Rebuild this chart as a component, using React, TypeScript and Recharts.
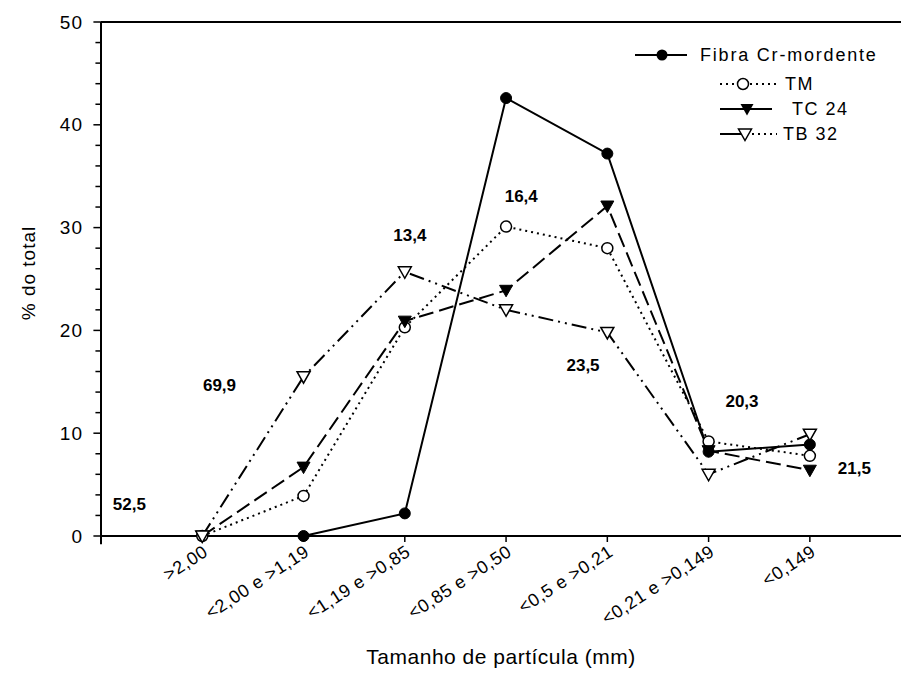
import React from 'react';
import { LineChart, Line, XAxis, YAxis, ReferenceDot, ReferenceLine } from 'recharts';

const categories = ['>2,00', '<2,00 e >1,19', '<1,19 e >0,85', '<0,85 e >0,50', '<0,5 e >0,21', '<0,21 e >0,149', '<0,149'];
const fibra = [null, 0, 2.2, 42.6, 37.2, 8.2, 8.9];
const tm = [0, 3.9, 20.3, 30.1, 28.0, 9.2, 7.8];
const tc24 = [0, 6.7, 20.9, 23.9, 32.1, 8.3, 6.4];
const tb32 = [0, 15.5, 25.7, 22.0, 19.8, 6.0, 9.9];

const yTicks = [0, 2, 4, 6, 8, 10, 12, 14, 16, 18, 20, 22, 24, 26, 28, 30, 32, 34, 36, 38, 40, 42, 44, 46, 48, 50];
const xTicks = [0, 1, 2, 3, 4, 5, 6];

// numbers written on the plot, anchored in data units
const noteText = ['52,5', '69,9', '13,4', '16,4', '23,5', '20,3', '21,5'];
const noteX = [-0.72, 0.17, 2.05, 3.15, 3.76, 5.33, 6.44];
const noteY = [3.1, 14.7, 29.3, 33.1, 16.6, 13.1, 6.6];

const X_MIN = -1;

const data = categories.map((c, i) => ({
  idx: i,
  label: c,
  fibra: fibra[i],
  tm: tm[i],
  tc24: tc24[i],
  tb32: tb32[i],
}));

const FONT = '"Liberation Sans", Arial, sans-serif';

const FilledCircle = (p: any) =>
  p.cx == null || p.value == null ? null : <circle key={p.key} cx={p.cx} cy={p.cy} r={5.5} fill="#000" stroke="#000" />;
const OpenCircle = (p: any) =>
  p.cx == null ? null : <circle key={p.key} cx={p.cx} cy={p.cy} r={5.5} fill="#fff" stroke="#000" strokeWidth={1.5} />;
const tri = (cx: number, cy: number) => `${cx - 6.5},${cy - 5} ${cx + 6.5},${cy - 5} ${cx},${cy + 6.5}`;
const FilledTri = (p: any) =>
  p.cx == null ? null : <polygon key={p.key} points={tri(p.cx, p.cy)} fill="#000" stroke="#000" />;
const OpenTri = (p: any) =>
  p.cx == null ? null : <polygon key={p.key} points={tri(p.cx, p.cy)} fill="#fff" stroke="#000" strokeWidth={1.5} />;

const YTick = (p: any) => {
  const v = p.payload.value;
  if (v % 10 !== 0) return <g />;
  return (
    <text x={p.x} y={p.y} textAnchor="end" dominantBaseline="central" fontSize={19} letterSpacing={1} fontFamily={FONT} fill="#000">
      {v}
    </text>
  );
};

const LegendBox = () => (
  <svg width={901} height={150} style={{ position: 'absolute', left: 0, top: 0, fontFamily: FONT, pointerEvents: 'none' }}>
    <g>
      <line x1={635} y1={55} x2={687} y2={55} stroke="#000" strokeWidth={2} />
      <circle cx={662} cy={55} r={5.5} fill="#000" />
      <text x={700} y={61} fontSize={18} letterSpacing={1.8}>Fibra Cr-mordente</text>
    </g>
    <g>
      <line x1={720} y1={84} x2={777} y2={84} stroke="#000" strokeWidth={2} strokeDasharray="2 4" />
      <circle cx={743} cy={84} r={5.5} fill="#fff" stroke="#000" strokeWidth={1.5} />
      <text x={785} y={90} fontSize={18} letterSpacing={1.5}>TM</text>
    </g>
    <g>
      <line x1={720} y1={109} x2={772} y2={109} stroke="#000" strokeWidth={2} />
      <polygon points={tri(747, 109)} fill="#000" />
      <text x={792} y={115} fontSize={18} letterSpacing={1.5}>TC 24</text>
    </g>
    <g>
      <line x1={720} y1={134} x2={740} y2={134} stroke="#000" strokeWidth={2} />
      <line x1={740} y1={134} x2={777} y2={134} stroke="#000" strokeWidth={2} strokeDasharray="2 4" />
      <polygon points={tri(745, 134)} fill="#fff" stroke="#000" strokeWidth={1.5} />
      <text x={783} y={140} fontSize={18} letterSpacing={1.5}>TB 32</text>
    </g>
  </svg>
);

export default function App() {
  return (
    <div style={{ position: 'absolute', left: 0, top: 0, width: 901, height: 700, fontFamily: FONT }}>
      <LineChart width={901} height={700} data={data} margin={{ top: 22, right: 0, left: 0, bottom: 0 }}>
        <XAxis
          type="number"
          dataKey="idx"
          domain={[X_MIN, 6.9]}
          ticks={xTicks}
          tickFormatter={(v: number) => categories[v] ?? ''}
          height={164}
          axisLine={{ stroke: '#000', strokeWidth: 2 }}
          tickLine={{ stroke: '#000', strokeWidth: 1.5 }}
          tickSize={6}
          interval={0}
          tick={{ angle: -33, textAnchor: 'end', fontSize: 18, letterSpacing: 0.6, fill: '#000', fontFamily: FONT }}
          label={{ value: 'Tamanho de partícula (mm)', position: 'insideBottom', offset: 36, fontSize: 21, letterSpacing: 0.5, fill: '#000', fontFamily: FONT }}
        />
        <YAxis
          type="number"
          domain={[0, 50]}
          ticks={yTicks}
          interval={0}
          width={101}
          axisLine={{ stroke: '#000', strokeWidth: 2 }}
          tickLine={false}
          tickSize={6}
          tickMargin={12}
          tick={<YTick />}
          label={{
            content: (props: any) => {
              const vb = props.viewBox;
              const cx = vb.x + 28;
              const cy = vb.y + vb.height / 2 - 6;
              return (
                <text x={cx} y={cy} transform={`rotate(-90 ${cx} ${cy})`} textAnchor="middle" dominantBaseline="central" fontSize={19} letterSpacing={1} fontFamily={FONT} fill="#000">
                  % do total
                </text>
              );
            },
          }}
        />
        <ReferenceLine y={50} stroke="#000" strokeWidth={2} ifOverflow="visible" />
        {yTicks.map((v) => (
          <ReferenceLine
            key={`yt${v}`}
            segment={[{ x: X_MIN - (v % 10 === 0 ? 0.075 : 0.055), y: v }, { x: X_MIN, y: v }]}
            stroke="#000"
            strokeWidth={1.5}
            ifOverflow="visible"
          />
        ))}
        <ReferenceLine segment={[{ x: X_MIN, y: 0 }, { x: X_MIN, y: -0.8 }]} stroke="#000" strokeWidth={2} ifOverflow="visible" />
        <Line dataKey="fibra" stroke="#000" strokeWidth={2} dot={<FilledCircle />} isAnimationActive={false} />
        <Line dataKey="tm" stroke="#000" strokeWidth={2} strokeDasharray="2 4" dot={<OpenCircle />} isAnimationActive={false} />
        <Line dataKey="tc24" stroke="#000" strokeWidth={2} strokeDasharray="15 6" dot={<FilledTri />} isAnimationActive={false} />
        <Line dataKey="tb32" stroke="#000" strokeWidth={2} strokeDasharray="15 5 2 5 2 5" dot={<OpenTri />} isAnimationActive={false} />
        {noteText.map((t, i) => (
          <ReferenceDot
            key={t}
            x={noteX[i]}
            y={noteY[i]}
            r={0}
            fill="none"
            stroke="none"
            label={{ value: t, position: 'center', fontSize: 17, fontWeight: 'bold', fill: '#000', fontFamily: FONT }}
          />
        ))}
      </LineChart>
      <LegendBox />
    </div>
  );
}
